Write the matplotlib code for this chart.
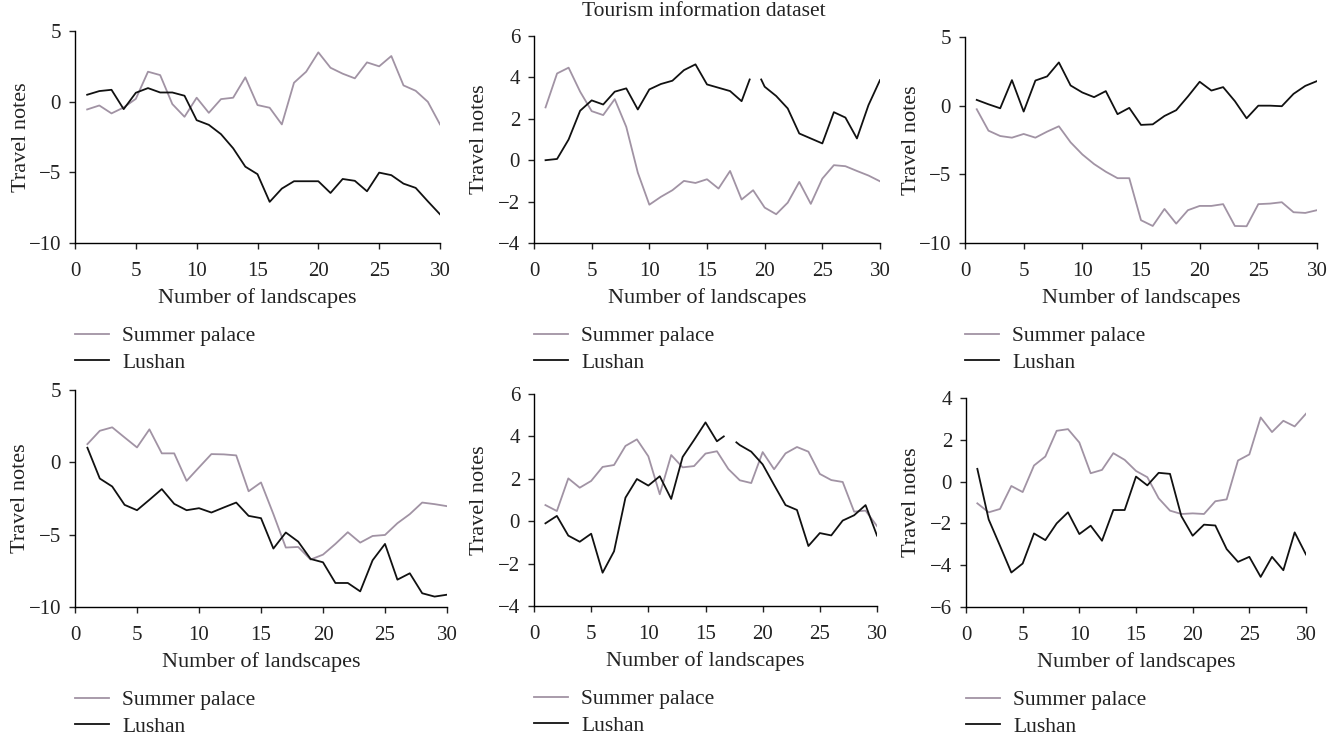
import numpy as np
import matplotlib
matplotlib.use('Agg')
import matplotlib.pyplot as plt

# x positions (number of landscapes)
x = list(range(1, 31))

# panel 1 (top left)
sp1 = [-0.55, -0.27, -0.83, -0.41, 0.2, 2.12, 1.88, -0.17, -1.07, 0.28,
       -0.79, 0.18, 0.28, 1.72, -0.24, -0.43, -1.61, 1.34, 2.12, 3.49,
       2.4, 1.98, 1.65, 2.78, 2.5, 3.23, 1.15, 0.77, -0.01, -1.61]
lu1 = [0.49, 0.75, 0.84, -0.53, 0.63, 0.96, 0.65, 0.65, 0.42, -1.31,
       -1.64, -2.3, -3.3, -4.6, -5.13, -7.09, -6.15, -5.63, -5.63, -5.63,
       -6.46, -5.47, -5.6, -6.34, -5.02, -5.2, -5.8, -6.1, -7.05, -7.97]

# panel 2 (top middle), black line has a break near 19
sp2 = [2.55, 4.19, 4.47, 3.31, 2.37, 2.18, 2.95, 1.61, -0.6, -2.15,
       -1.77, -1.45, -1.0, -1.1, -0.92, -1.37, -0.52, -1.9, -1.45, -2.29,
       -2.61, -2.05, -1.05, -2.11, -0.89, -0.24, -0.29, -0.52, -0.74, -1.02]
lu2_x = list(range(1, 19)) + [18.7, np.nan, 19.7] + list(range(20, 31))
lu2 = [0.0, 0.06, 1.0, 2.39, 2.89, 2.69, 3.31, 3.47, 2.45, 3.42,
       3.68, 3.84, 4.35, 4.63, 3.66, 3.5, 3.34, 2.85, 3.9, np.nan, 3.9,
       3.55, 3.1, 2.5, 1.29, 1.05, 0.81, 2.32, 2.06, 1.05, 2.66, 3.87]

# panel 3 (top right)
sp3 = [-0.26, -1.82, -2.21, -2.33, -2.06, -2.33, -1.89, -1.5, -2.67, -3.55,
       -4.25, -4.81, -5.28, -5.28, -8.34, -8.76, -7.52, -8.59, -7.61, -7.3,
       -7.3, -7.17, -8.76, -8.78, -7.17, -7.13, -7.03, -7.76, -7.81, -7.61]
lu3 = [0.42, 0.1, -0.19, 1.86, -0.43, 1.83, 2.13, 3.15, 1.47, 0.96,
       0.62, 1.06, -0.62, -0.16, -1.4, -1.36, -0.75, -0.33, 0.67, 1.74,
       1.1, 1.35, 0.33, -0.92, 0.0, 0.0, -0.04, 0.86, 1.44, 1.79]

# panel 4 (bottom left)
sp4 = [1.26, 2.18, 2.42, 1.72, 1.03, 2.28, 0.62, 0.62, -1.28, -0.35,
       0.57, 0.55, 0.48, -2.0, -1.39, -3.58, -5.89, -5.85, -6.72, -6.38,
       -5.64, -4.83, -5.55, -5.09, -5.02, -4.21, -3.58, -2.78, -2.89, -3.03]
lu4 = [1.01, -1.12, -1.67, -2.94, -3.31, -2.59, -1.85, -2.87, -3.31, -3.17,
       -3.47, -3.12, -2.78, -3.7, -3.86, -5.96, -4.85, -5.48, -6.68, -6.91,
       -8.34, -8.34, -8.92, -6.77, -5.64, -8.11, -7.67, -9.05, -9.28, -9.15]

# panel 5 (bottom middle), black line has a break near 17
sp5 = [0.76, 0.48, 2.02, 1.58, 1.9, 2.56, 2.65, 3.55, 3.86, 3.06,
       1.27, 3.12, 2.54, 2.6, 3.19, 3.3, 2.46, 1.93, 1.8, 3.26,
       2.45, 3.2, 3.5, 3.28, 2.23, 1.94, 1.85, 0.45, 0.5, -0.23]
lu5_x = list(range(1, 17)) + [16.6, np.nan, 17.7] + list(range(18, 31))
lu5 = [-0.1, 0.25, -0.68, -0.97, -0.59, -2.43, -1.42, 1.11, 1.99, 1.68,
       2.12, 1.05, 3.03, 3.83, 4.66, 3.77, 4.0, np.nan, 3.72,
       3.59, 3.28, 2.68, 1.71, 0.76, 0.53, -1.17, -0.56, -0.67, 0.03,
       0.28, 0.76, -0.68]

# panel 6 (bottom right)
sp6 = [-1.04, -1.47, -1.31, -0.21, -0.5, 0.77, 1.2, 2.43, 2.51, 1.87,
       0.4, 0.56, 1.36, 1.04, 0.51, 0.21, -0.8, -1.39, -1.55, -1.52,
       -1.55, -0.94, -0.85, 1.01, 1.3, 3.07, 2.37, 2.91, 2.64, 3.25]
lu6 = [0.61, -1.81, -3.07, -4.35, -3.92, -2.48, -2.8, -2.0, -1.47, -2.51,
       -2.11, -2.83, -1.36, -1.36, 0.24, -0.18, 0.42, 0.37, -1.65, -2.59,
       -2.06, -2.1, -3.23, -3.84, -3.6, -4.56, -3.6, -4.24, -2.43, -3.49]

panels = [
    (x, sp1, x, lu1, (-10, 5), [-10, -5, 0, 5]),
    (x, sp2, lu2_x, lu2, (-4, 6), [-4, -2, 0, 2, 4, 6]),
    (x, sp3, x, lu3, (-10, 5), [-10, -5, 0, 5]),
    (x, sp4, x, lu4, (-10, 5), [-10, -5, 0, 5]),
    (x, sp5, lu5_x, lu5, (-4, 6), [-4, -2, 0, 2, 4, 6]),
    (x, sp6, x, lu6, (-6, 4), [-6, -4, -2, 0, 2, 4]),
]

# axes boxes in pixels: left, right, top, bottom
boxes = [
    (75, 440, 31, 243), (534, 880, 36, 243), (965, 1317, 37, 243),
    (75, 447, 390, 607), (534, 877, 394, 606), (966, 1306, 398, 607),
]

W, H = 1338, 740
plt.rcParams['font.family'] = ['Liberation Serif', 'DejaVu Serif']
plt.rcParams['axes.unicode_minus'] = True

fig = plt.figure(figsize=(W / 100, H / 100), dpi=100)
gray = '#a193a4'
ink = '#222222'

for (xs, sp, xl, lu, ylim, yt), (l, r, t, b) in zip(panels, boxes):
    ax = fig.add_axes([l / W, 1 - b / H, (r - l) / W, (b - t) / H])
    ax.plot(xs, sp, color=gray, lw=1.3, label='Summer palace')
    ax.plot(xl, lu, color='#111111', lw=1.3, label='Lushan')
    ax.set_xlim(0, 30)
    ax.set_ylim(*ylim)
    ax.set_xticks([0, 5, 10, 15, 20, 25, 30])
    ax.set_yticks(yt)
    ax.spines['top'].set_visible(False)
    ax.spines['right'].set_visible(False)
    ax.spines['left'].set_linewidth(1.0)
    ax.spines['bottom'].set_linewidth(1.0)
    ax.tick_params(labelsize=15, length=4, width=1.0, color=ink,
                   labelcolor=ink)
    ax.tick_params(axis='x', pad=10)
    ax.tick_params(axis='y', pad=6)
    ax.set_xlabel('Number of landscapes', fontsize=16, color=ink, labelpad=5)
    ax.set_ylabel('Travel notes', fontsize=16, color=ink, va='center')
    ax.yaxis.set_label_coords(-54 / (r - l), 0.5)
    ax.legend(loc='upper left', bbox_to_anchor=(l / W, 1 - (b + 83) / H),
              bbox_transform=fig.transFigure, frameon=False, fontsize=15.5,
              handlelength=1.6, handletextpad=0.6, labelspacing=0.32,
              borderpad=0, borderaxespad=0, labelcolor=ink)

fig.text(704 / W, 1 - 11 / H, 'Tourism information dataset', ha='center',
         va='center', fontsize=15.5, color=ink)

fig.savefig('out.png', dpi=100)
